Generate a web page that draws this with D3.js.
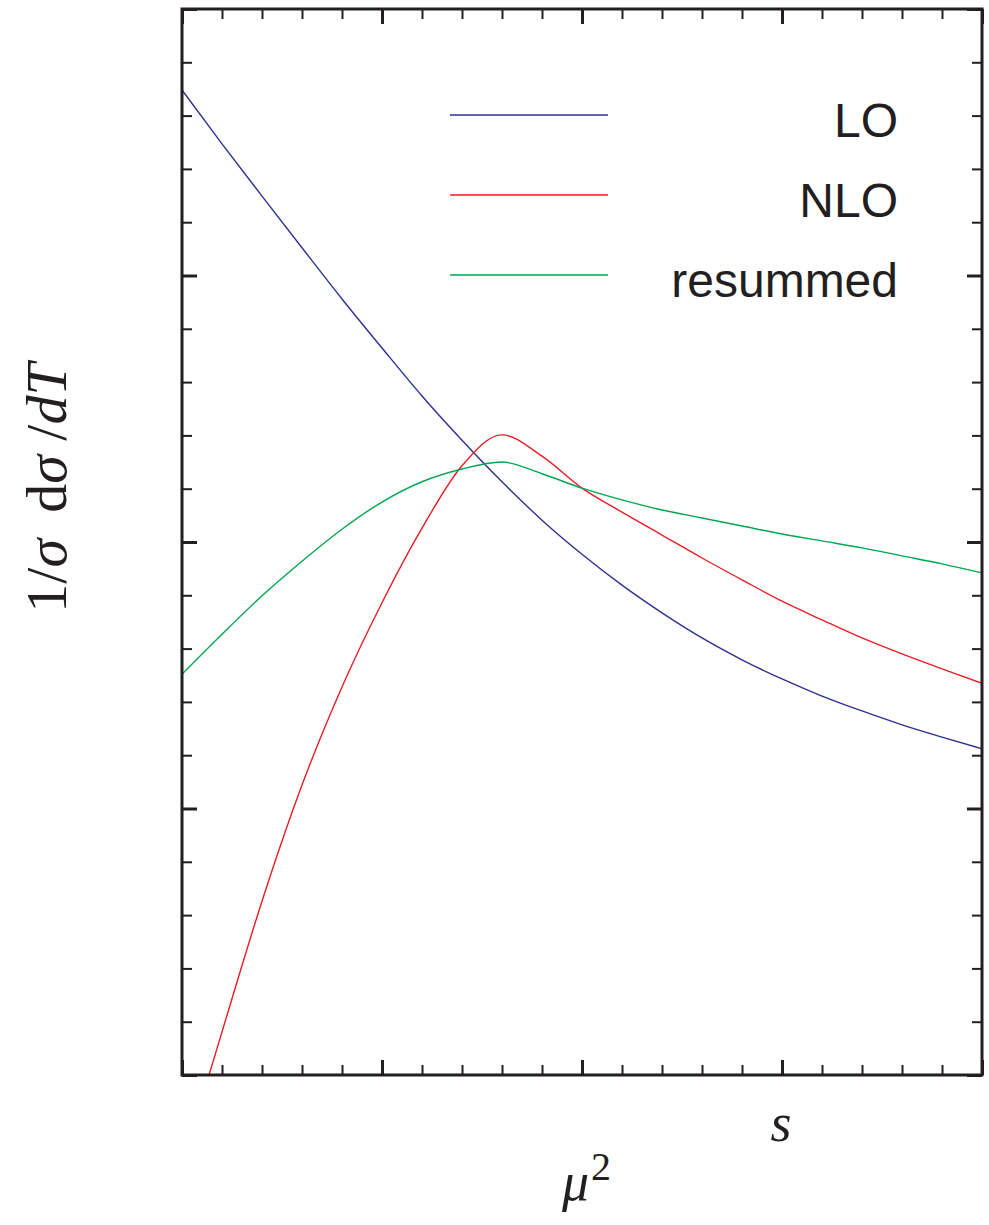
<!DOCTYPE html>
<html>
<head>
<meta charset="utf-8">
<script src="https://cdn.jsdelivr.net/npm/d3@7"></script>
<style>
    body { margin: 0; background: #fff; }
    .frame { fill: none; stroke: #231f20; stroke-width: 3; }
    .tick line { stroke: #231f20; }
    .domain { display: none; }
    .curve { fill: none; stroke-width: 1.4; }
    .legend-text { font-family: 'Liberation Sans', Arial, sans-serif; font-size: 48px; fill: #231f20; }
    .math { font-family: 'Liberation Serif', 'DejaVu Serif', serif; fill: #231f20; }
</style>
</head>
<body>
<div id="chart"></div>
<script>
// x positions (in tick units, 0..20) where curves were read
const xs = d3.range(0, 21);
const loValues = [18.48, 17.47, 16.49, 15.52, 14.56, 13.64, 12.74, 11.91, 11.13, 10.41, 9.77,
    9.19, 8.67, 8.20, 7.79, 7.43, 7.11, 6.83, 6.57, 6.34, 6.12];
const nloValues = [-1.69, 0.81, 3.26, 5.44, 7.28, 8.86, 10.26, 11.43, 12.01, 11.61, 11.01,
    10.56, 10.13, 9.70, 9.29, 8.89, 8.54, 8.20, 7.90, 7.62, 7.35];
const resummedValues = [7.52, 8.27, 8.99, 9.64, 10.24, 10.75, 11.13, 11.37, 11.50, 11.28, 11.01,
    10.79, 10.60, 10.45, 10.30, 10.15, 10.02, 9.89, 9.74, 9.59, 9.42];
const seriesNames = ['LO', 'NLO', 'resummed'];
const seriesColors = ['#2e3192', '#ed1c24', '#00a651'];
const majorTicks = [0, 5, 10, 15, 20];
const minorTicks = d3.range(0, 21).filter(d => d % 5 !== 0);

const totalWidth = 989;
const totalHeight = 1225;
const plotLeft = 182, plotRight = 982, plotTop = 9, plotBottom = 1075;

const svg = d3.select('#chart').append('svg')
    .attr('width', totalWidth)
    .attr('height', totalHeight);

const scaleX = d3.scaleLinear().domain([0, 20]).range([plotLeft, plotRight]);
const scaleY = d3.scaleLinear().domain([0, 20]).range([plotBottom, plotTop]);

svg.append('clipPath').attr('id', 'plot-clip')
    .append('rect')
    .attr('x', plotLeft).attr('y', plotTop)
    .attr('width', plotRight - plotLeft).attr('height', plotBottom - plotTop);

// curves
const line = d3.line()
    .x((d, i) => scaleX(xs[i]))
    .y(d => scaleY(d))
    .curve(d3.curveMonotoneX);
const allSeries = [loValues, nloValues, resummedValues];
svg.append('g')
    .attr('clip-path', 'url(#plot-clip)')
    .selectAll('path')
    .data(allSeries)
    .enter()
    .append('path')
    .attr('class', 'curve')
    .attr('stroke', (d, i) => seriesColors[i])
    .attr('d', line);

// inward ticks on all four sides
const addAxis = (axisFn, scale, values, size, width, transform) => {
    svg.append('g')
        .attr('transform', transform)
        .call(axisFn(scale).tickValues(values).tickSize(size).tickFormat(''))
        .selectAll('.tick line')
        .attr('stroke-width', width);
};
[[majorTicks, 15, 3], [minorTicks, 10, 2]].forEach(([vals, len, w]) => {
    addAxis(d3.axisBottom, scaleX, vals, -len, w, `translate(0, ${plotBottom})`);
    addAxis(d3.axisTop, scaleX, vals, -len, w, `translate(0, ${plotTop})`);
    addAxis(d3.axisLeft, scaleY, vals, -len, w, `translate(${plotLeft}, 0)`);
    addAxis(d3.axisRight, scaleY, vals, -len, w, `translate(${plotRight}, 0)`);
});

svg.append('rect')
    .attr('class', 'frame')
    .attr('x', plotLeft).attr('y', plotTop)
    .attr('width', plotRight - plotLeft).attr('height', plotBottom - plotTop);

// legend
const legend = svg.append('g');
seriesNames.forEach((name, i) => {
    const y = 115 + i * 80;
    legend.append('line')
        .attr('x1', 450).attr('x2', 608)
        .attr('y1', y).attr('y2', y)
        .attr('stroke', seriesColors[i])
        .attr('stroke-width', 1.4);
    legend.append('text')
        .attr('class', 'legend-text')
        .attr('x', 898)
        .attr('y', y + 22)
        .attr('text-anchor', 'end')
        .text(name);
});

// axis labels
svg.append('text')
    .attr('class', 'math')
    .attr('x', 781)
    .attr('y', 1141)
    .attr('text-anchor', 'middle')
    .style('font-size', '54px')
    .style('font-style', 'italic')
    .text('s');

const mu = svg.append('text')
    .attr('class', 'math')
    .attr('x', 562)
    .attr('y', 1200)
    .style('font-size', '54px');
mu.append('tspan').style('font-style', 'italic').text('μ');
mu.append('tspan').attr('dx', 2).attr('dy', -20).style('font-size', '40px').text('2');

const yLabel = svg.append('text')
    .attr('class', 'math')
    .attr('transform', 'translate(66, 488) rotate(-90)')
    .attr('text-anchor', 'middle')
    .style('font-size', '58px');
yLabel.append('tspan').text('1/');
yLabel.append('tspan').style('font-style', 'italic').text('σ');
yLabel.append('tspan').text('\u2009 d');
yLabel.append('tspan').style('font-style', 'italic').text('σ');
yLabel.append('tspan').text(' /');
yLabel.append('tspan').style('font-style', 'italic').text('dT');
</script>
</body>
</html>
